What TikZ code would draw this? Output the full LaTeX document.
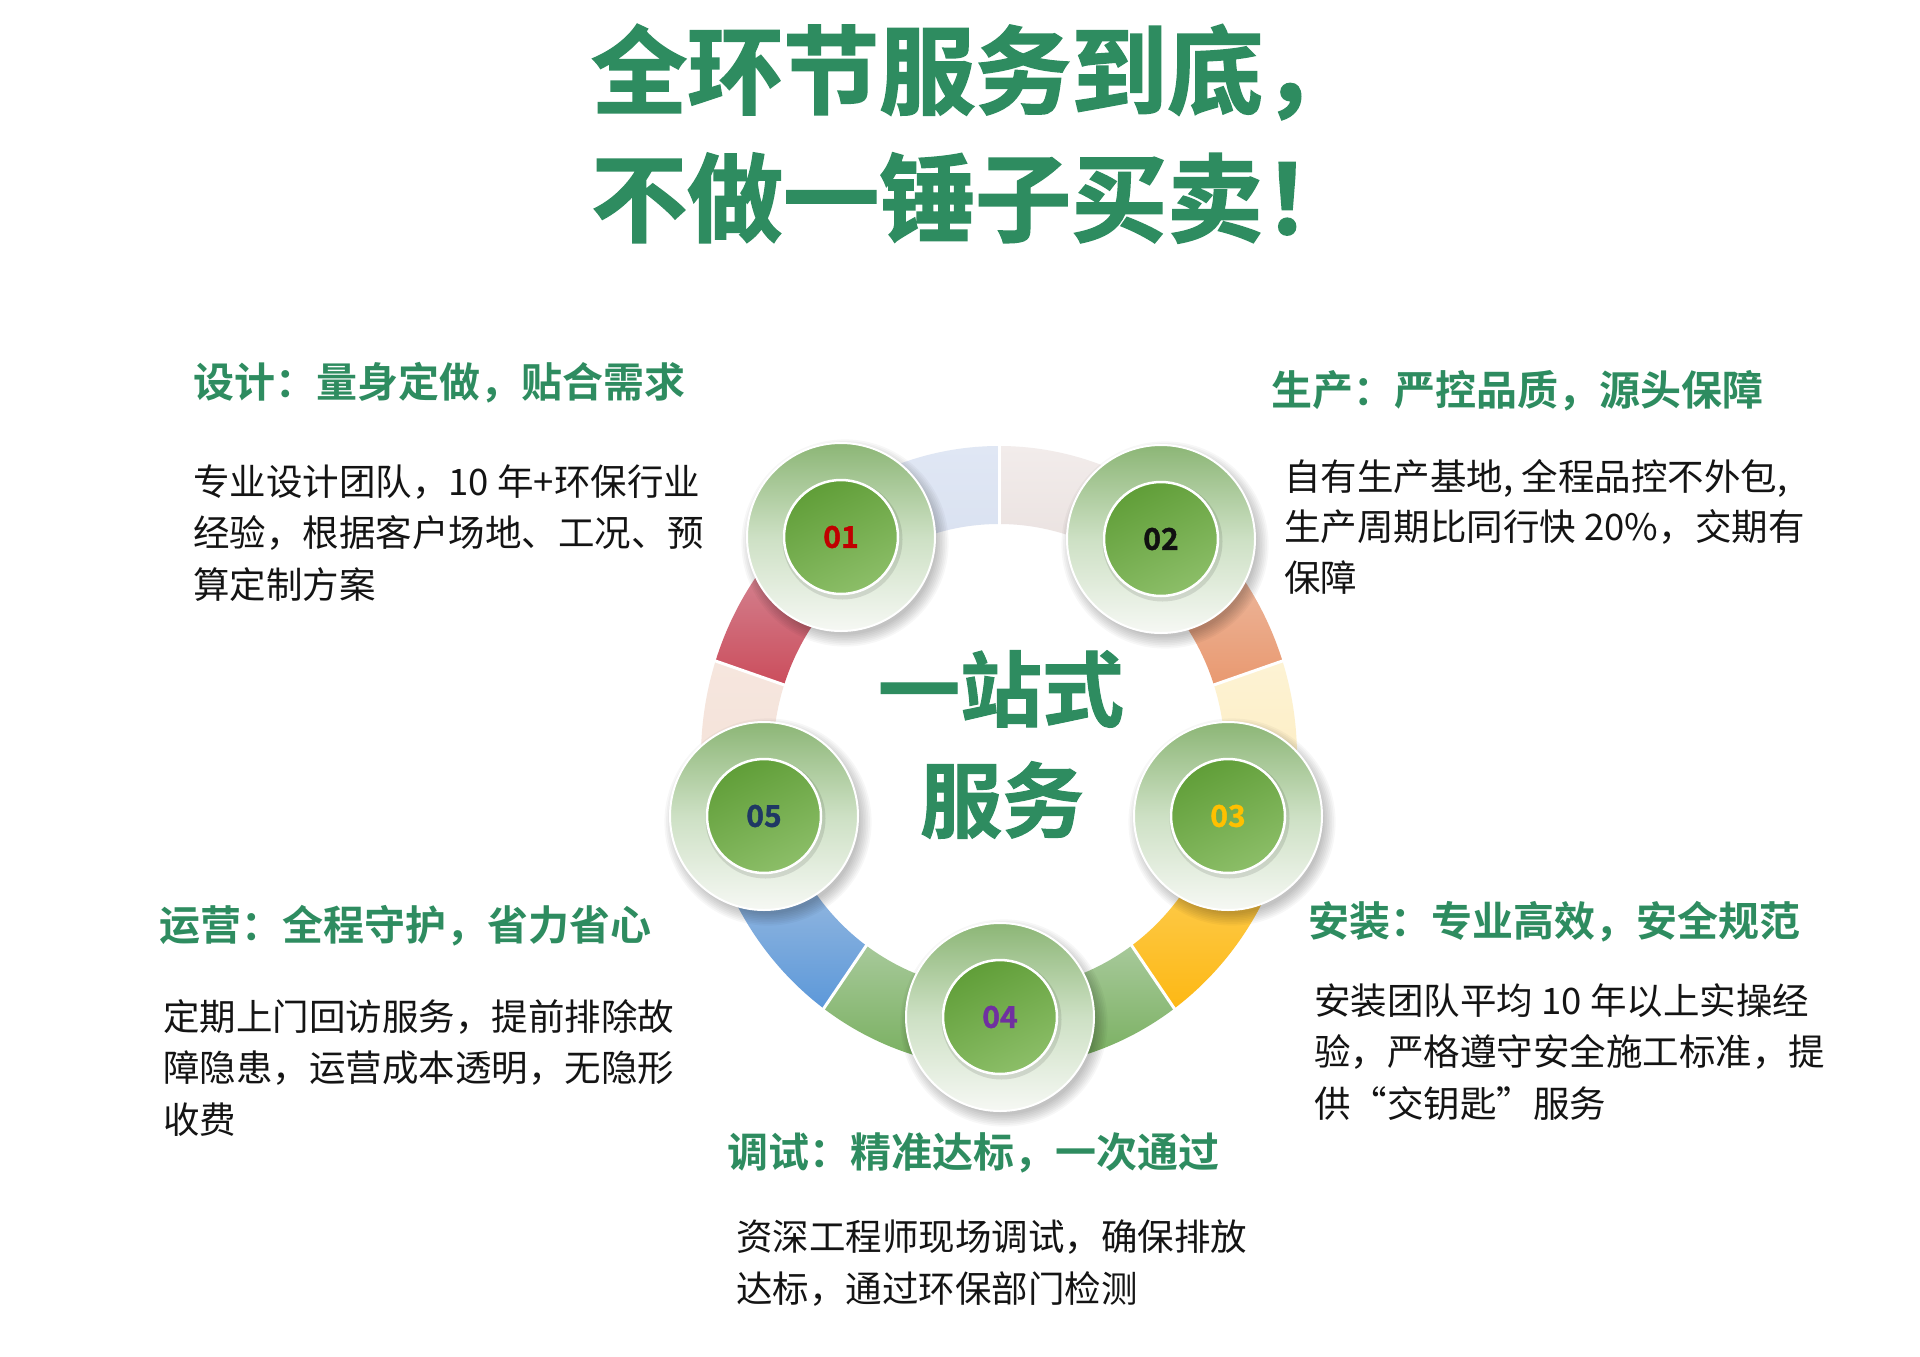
\documentclass[tikz,border=0pt]{standalone}
\usepackage{fontspec}
\newfontfamily\cjk{Noto Sans CJK SC}[BoldFont=* Bold]
\newfontfamily\titlefont{Noto Sans CJK SC}[UprightFont=* Bold,FakeBold=1.6]
\newfontfamily\heavyfont{Noto Sans CJK SC}[UprightFont=* Bold,FakeBold=1.2]
\definecolor{tgreen}{RGB}{46,140,96}
\definecolor{pinkA}{RGB}{242,236,235}
\definecolor{pinkB}{RGB}{233,224,222}
\definecolor{salA}{RGB}{238,200,182}
\definecolor{salB}{RGB}{233,153,112}
\definecolor{yelA}{RGB}{253,243,212}
\definecolor{yelB}{RGB}{252,233,184}
\definecolor{goldA}{RGB}{253,211,100}
\definecolor{goldB}{RGB}{253,184,20}
\definecolor{grnA}{RGB}{167,201,154}
\definecolor{grnB}{RGB}{118,174,92}
\definecolor{bluA}{RGB}{173,198,227}
\definecolor{bluB}{RGB}{92,152,217}
\definecolor{peaA}{RGB}{246,230,222}
\definecolor{peaB}{RGB}{243,224,214}
\definecolor{redA}{RGB}{216,160,172}
\definecolor{redB}{RGB}{203,77,92}
\definecolor{lavA}{RGB}{224,231,244}
\definecolor{lavB}{RGB}{216,224,240}
\definecolor{diskgreen}{RGB}{140,182,118}
\definecolor{diskmid}{RGB}{205,224,196}
\definecolor{diskwhite}{RGB}{246,248,244}
\definecolor{ingreenA}{RGB}{96,158,56}
\definecolor{ingreenB}{RGB}{140,190,104}
\definecolor{num1}{RGB}{192,0,0}
\definecolor{num2}{RGB}{17,17,17}
\definecolor{num3}{RGB}{255,192,0}
\definecolor{num4}{RGB}{112,48,160}
\definecolor{num5}{RGB}{31,56,100}
\tikzset{
  titletext/.style={anchor=west,inner sep=0pt,text=tgreen,font=\titlefont\fontsize{96}{96}\selectfont},
  headtext/.style={anchor=west,inner sep=0pt,text=tgreen,font=\cjk\bfseries\fontsize{41}{41}\selectfont},
  bodytext/.style={anchor=north west,inner sep=0pt,align=left,text=black!92,font=\cjk\fontsize{36.5}{51.5}\selectfont},
  centertext/.style={inner sep=0pt,text=tgreen,font=\heavyfont\fontsize{82}{82}\selectfont},
  outerdisk/.style={circle,minimum size=188pt,inner sep=0pt,draw=white,line width=2pt,top color=diskgreen,bottom color=diskwhite,middle color=diskmid},
  innerdisk/.style={circle,minimum size=114pt,inner sep=0pt,draw=white,line width=2.5pt,top color=ingreenA,bottom color=ingreenB,shading angle=25},
  numlabel/.style={inner sep=0pt,font=\heavyfont\fontsize{30}{30}\selectfont},
  seplines/.style={white,line width=3pt}
}
\newcommand\ringseg[4]{%
  \shade[top color=#3,bottom color=#4]
    ([shift={(#1:226pt and 233pt)}]O) -- ([shift={(#1:298pt and 311pt)}]O)
    arc[start angle=#1,end angle=#2,x radius=298pt,y radius=311pt]
    -- ([shift={(#2:226pt and 233pt)}]O)
    arc[start angle=#2,end angle=#1,x radius=226pt,y radius=233pt] -- cycle;}
\newcommand\badge[5]{%
  \foreach \k in {1,...,8}{\fill[black,opacity=0.03] (#2+4,#3-6) circle[radius=90pt+\k*1.7pt];}
  \node[outerdisk] (#1) at (#2,#3) {};
  \fill[black,opacity=0.10] (#2+1.5,#3-2.5) circle[radius=60pt];
  \node[innerdisk] (#1i) at (#2,#3) {};
  \node[numlabel,text=#4] (#1n) at (#2,#3) {#5};}
\begin{document}
\begin{tikzpicture}[x=1pt,y=1pt]
\useasboundingbox (0,0) rectangle (1920,-1357);
\fill[white] (0,0) rectangle (1920,-1357);
% title
\node[titletext] (title1) at (591,-72) {全环节服务到底，};
\node[titletext] (title2) at (591,-198) {不做一锤子买卖！};
% ring
\coordinate (O) at (999,-757);
\ringseg{54}{90}{pinkA}{pinkB}
\ringseg{18}{54}{salA}{salB}
\ringseg{-18}{18}{yelA}{yelB}
\ringseg{-54}{-18}{goldA}{goldB}
\ringseg{-90}{-54}{grnA}{grnB}
\ringseg{-126}{-90}{grnA}{grnB}
\ringseg{-162}{-126}{bluA}{bluB}
\ringseg{162}{198}{peaA}{peaB}
\ringseg{126}{162}{redA}{redB}
\ringseg{90}{126}{lavA}{lavB}
\foreach \a in {90,18,-54,-126,162}{\draw[seplines] ([shift={(\a:221pt and 228pt)}]O) -- ([shift={(\a:303pt and 316pt)}]O);}
% centre
\node[centertext] (ctr1) at (1001,-689) {一站式};
\node[centertext] (ctr2) at (1002,-800) {服务};
% badges
\badge{c1}{841}{-537}{num1}{01}
\badge{c2}{1161}{-539}{num2}{02}
\badge{c3}{1228}{-816}{num3}{03}
\badge{c4}{1000}{-1017}{num4}{04}
\badge{c5}{764}{-816}{num5}{05}
% text blocks
\node[headtext] (h1) at (193,-383) {设计：量身定做，贴合需求};
\node[bodytext] (b1) at (193,-464) {专业设计团队，10 年+环保行业\\经验，根据客户场地、工况、预\\算定制方案};
\node[headtext] (h2) at (1271,-391) {生产：严控品质，源头保障};
\node[bodytext,font=\cjk\fontsize{36.5}{50.5}\selectfont] (b2) at (1284,-459) {自有生产基地, 全程品控不外包,\\生产周期比同行快 20\%，交期有\\保障};
\node[headtext] (h3) at (1308,-922) {安装：专业高效，安全规范};
\node[bodytext] (b3) at (1314,-983) {安装团队平均 10 年以上实操经\\验，严格遵守安全施工标准，提\\供“交钥匙”服务};
\node[headtext] (h4) at (727,-1153) {调试：精准达标，一次通过};
\node[bodytext] (b4) at (736,-1220) {资深工程师现场调试，确保排放\\达标，通过环保部门检测};
\node[headtext] (h5) at (159,-926) {运营：全程守护，省力省心};
\node[bodytext] (b5) at (163,-999) {定期上门回访服务，提前排除故\\障隐患，运营成本透明，无隐形\\收费};
\end{tikzpicture}
\end{document}
